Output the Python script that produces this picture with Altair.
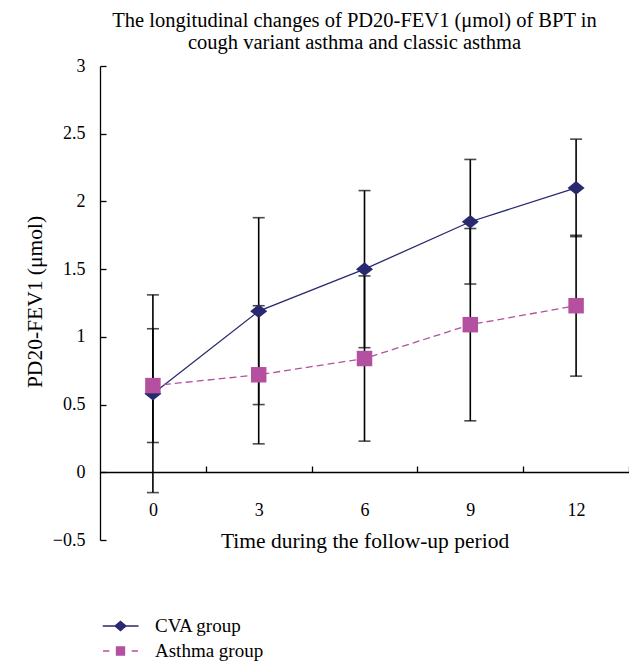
import altair as alt
import pandas as pd

# ---- data ----
times = [0, 3, 6, 9, 12]
series_names = ["CVA group", "Asthma group"]
cva_mean = [0.58, 1.19, 1.50, 1.85, 2.10]
cva_sd = [0.73, 0.69, 0.58, 0.46, 0.36]
asthma_mean = [0.64, 0.72, 0.84, 1.09, 1.23]
asthma_sd = [0.42, 0.51, 0.61, 0.71, 0.52]
y_ticks = [-0.5, 0, 0.5, 1, 1.5, 2, 2.5, 3]
title_lines = [
    "The longitudinal changes of PD20-FEV1 (\u03bcmol) of BPT in",
    "cough variant asthma and classic asthma",
]
x_title = "Time during the follow-up period"
y_title = "PD20-FEV1 (\u03bcmol)"

# ---- styling ----
W, H = 529, 474
FONT = "Liberation Serif"
NAVY = "#29296f"
MAG = "#b4509f"

df = pd.DataFrame({
    "time": times * 2,
    "series": [series_names[0]] * len(times) + [series_names[1]] * len(times),
    "mean": cva_mean + asthma_mean,
    "sd": cva_sd + asthma_sd,
})
df["lo"] = df["mean"] - df["sd"]
df["hi"] = df["mean"] + df["sd"]

step = times[1] - times[0]
xdom = [times[0] - step / 2, times[-1] + step / 2]
bounds = [t + step / 2 for t in times]
ymin, ymax = y_ticks[0], y_ticks[-1]

xscale = alt.Scale(domain=xdom, nice=False, zero=False)
yscale = alt.Scale(domain=[ymin, ymax], nice=False, zero=False)

base = alt.Chart(df)

err = base.mark_rule(color="black", strokeWidth=1.6).encode(
    x=alt.X("time:Q", scale=xscale, axis=alt.Axis(
        orient="bottom", values=times, domain=False, ticks=False, grid=False,
        labelFont=FONT, labelFontSize=18, labelColor="black",
        labelBaseline="middle", labelPadding=-30, labelFlush=False,
        title=x_title, titleFont=FONT, titleFontSize=21.5, titleFontWeight="normal",
        titleColor="black", titleY=1, titleBaseline="middle")),
    y=alt.Y("lo:Q", scale=yscale, axis=alt.Axis(
        orient="left", values=y_ticks, format="~g", domain=True,
        domainColor="black", domainWidth=1.3, ticks=False, grid=False,
        labelFont=FONT, labelFontSize=18, labelColor="black", labelPadding=15,
        title=y_title, titleFont=FONT, titleFontSize=21.5, titleFontWeight="normal",
        titleColor="black", titleX=-65, titleY=235.5, titleAngle=270,
        titleAlign="center", titleBaseline="middle")),
    y2="hi:Q",
)

cap_lo = base.mark_tick(orient="horizontal", size=12, thickness=1.6, color="black").encode(
    x=alt.X("time:Q", scale=xscale, axis=None),
    y=alt.Y("lo:Q", scale=yscale, axis=None),
)
cap_hi = base.mark_tick(orient="horizontal", size=12, thickness=1.6, color="black").encode(
    x=alt.X("time:Q", scale=xscale, axis=None),
    y=alt.Y("hi:Q", scale=yscale, axis=None),
)

line_cva = base.transform_filter(alt.datum.series == series_names[0]).mark_line(
    color=NAVY, strokeWidth=1.3).encode(
    x=alt.X("time:Q", scale=xscale, axis=alt.Axis(
        orient="top", offset=-round(H * ymax / (ymax - ymin)), values=bounds,
        domain=True, domainColor="black", domainWidth=1.3,
        ticks=True, tickSize=6, tickColor="black", tickWidth=1.3,
        labels=False, grid=False, title=None)),
    y=alt.Y("mean:Q", scale=yscale, axis=alt.Axis(
        orient="right", offset=-W, values=y_ticks, domain=False,
        ticks=True, tickSize=6, tickColor="black", tickWidth=1.3,
        labels=False, grid=False, title=None)),
)
line_ast = base.transform_filter(alt.datum.series == series_names[1]).mark_line(
    color=MAG, strokeWidth=1.3, strokeDash=[7, 4]).encode(
    x=alt.X("time:Q", scale=xscale, axis=None),
    y=alt.Y("mean:Q", scale=yscale, axis=None),
)

diamond = "M -1 0 L 0 -0.8 L 1 0 L 0 0.8 Z"
pts_cva = base.transform_filter(alt.datum.series == series_names[0]).mark_point(
    shape=diamond, filled=True, size=290, color=NAVY, opacity=1).encode(
    x=alt.X("time:Q", scale=xscale, axis=None),
    y=alt.Y("mean:Q", scale=yscale, axis=None),
)
pts_ast = base.transform_filter(alt.datum.series == series_names[1]).mark_point(
    shape="square", filled=True, size=240, color=MAG, opacity=1).encode(
    x=alt.X("time:Q", scale=xscale, axis=None),
    y=alt.Y("mean:Q", scale=yscale, axis=None),
)

# legend symbols: line + marker drawn as one path
leg_cva = ("M -1 -0.04 L 1 -0.04 L 1 0.04 L -1 0.04 Z "
           "M -0.36 0 L 0 -0.3 L 0.36 0 L 0 0.3 Z")
leg_ast = ("M -0.97 -0.04 L -0.62 -0.04 L -0.62 0.04 L -0.97 0.04 Z "
           "M 0.62 -0.04 L 0.97 -0.04 L 0.97 0.04 L 0.62 0.04 Z "
           "M -0.26 -0.26 L 0.26 -0.26 L 0.26 0.26 L -0.26 0.26 Z")

legend_props = dict(
    orient="none", legendX=2.5, legendY=547.5, direction="vertical", title=None,
    symbolSize=1296, symbolStrokeWidth=0, symbolOpacity=1, clipHeight=25,
    labelFont=FONT, labelFontSize=19, labelColor="black", labelOffset=16.5,
    padding=0, rowPadding=0,
)
leg_df = pd.DataFrame({"series": series_names})
legend_layer = alt.Chart(leg_df).mark_point(filled=True, opacity=0).encode(
    color=alt.Color("series:N", scale=alt.Scale(domain=series_names, range=[NAVY, MAG]),
                    legend=alt.Legend(**legend_props)),
    shape=alt.Shape("series:N", scale=alt.Scale(domain=series_names, range=[leg_cva, leg_ast]),
                    legend=alt.Legend(**legend_props)),
)

chart = alt.layer(
    err, cap_lo, cap_hi, line_cva, line_ast, pts_cva, pts_ast, legend_layer
).resolve_axis(x="independent", y="independent").properties(
    width=W, height=H,
    autosize=alt.AutoSizeParams(type="none"),
    padding={"left": 92, "top": 58, "right": 0, "bottom": 124},
    title=alt.TitleParams(
        text=title_lines, font=FONT, fontSize=20.5, fontWeight="normal", color="black",
        anchor="middle", dx=-10, lineHeight=22.7, baseline="bottom", offset=-17),
).configure_view(stroke=None)

chart.save("out.html", embed_options={"renderer": "svg", "actions": False})
